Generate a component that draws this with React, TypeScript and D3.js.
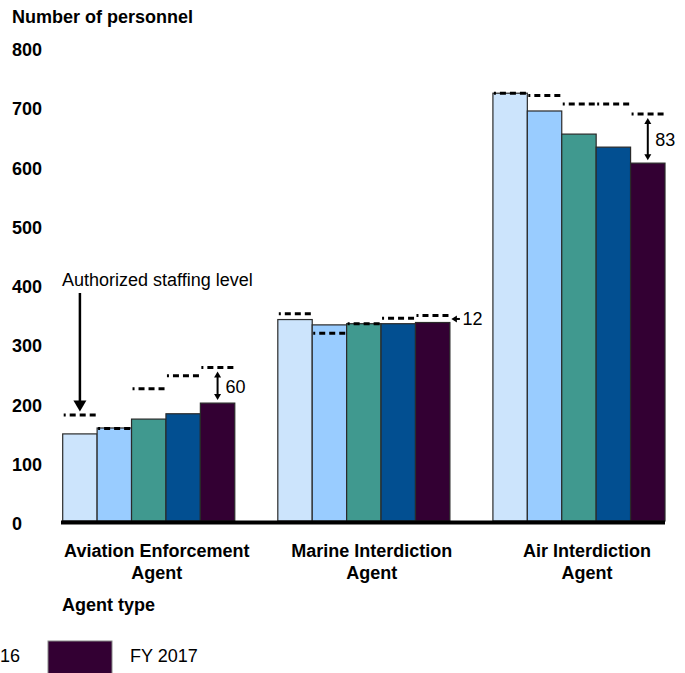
import React from 'react';
import * as d3 from 'd3';

const categories = ['Aviation Enforcement Agent', 'Marine Interdiction Agent', 'Air Interdiction Agent'];
const categoryLines = [
  ['Aviation Enforcement', 'Agent'],
  ['Marine Interdiction', 'Agent'],
  ['Air Interdiction', 'Agent'],
];
const fiscalYears = ['FY 2013', 'FY 2014', 'FY 2015', 'FY 2016', 'FY 2017'];
const colors = ['#cce4fc', '#99ccff', '#40998f', '#024f91', '#330033'];

const onBoardAviation = [147, 157, 172, 181, 199];
const onBoardMarine = [340, 331, 333, 333, 335];
const onBoardAir = [722, 692, 653, 631, 604];

const authorizedAviation = [179, 156, 223, 245, 259];
const authorizedMarine = [350, 317, 333, 342, 347];
const authorizedAir = [722, 718, 704, 704, 687];

const yTicks = [0, 100, 200, 300, 400, 500, 600, 700, 800];

const FONT = '"Liberation Sans", Arial, Helvetica, sans-serif';

export default function App() {
  const W = 685;
  const H = 673;
  const onBoard = [onBoardAviation, onBoardMarine, onBoardAir];
  const authorized = [authorizedAviation, authorizedMarine, authorizedAir];

  const x0 = d3.scaleBand<string>().domain(categories).range([62.7, 665]).paddingInner(0.2).paddingOuter(0);
  const x1 = d3.scaleBand<string>().domain(fiscalYears).range([0, x0.bandwidth()]).padding(0);
  const y = d3.scaleLinear().domain([0, 800]).range([521, 47]);
  const bw = x1.bandwidth();

  const barX = (ci: number, si: number) => (x0(categories[ci]) as number) + (x1(fiscalYears[si]) as number);

  // vertical double arrow helper
  const vArrow = (cx: number, yTop: number, yBot: number, key: string) => {
    const hl = 6, hw = 3.5;
    return (
      <g key={key}>
        <line x1={cx} x2={cx} y1={yTop + hl - 1} y2={yBot - hl + 1} stroke="#000" strokeWidth={2} />
        <path d={`M${cx},${yTop} L${cx - hw},${yTop + hl} L${cx + hw},${yTop + hl} Z`} fill="#000" />
        <path d={`M${cx},${yBot} L${cx - hw},${yBot - hl} L${cx + hw},${yBot - hl} Z`} fill="#000" />
      </g>
    );
  };

  // Gap annotations (last fiscal year)
  const last = fiscalYears.length - 1;
  const gapAv = authorizedAviation[last] - onBoardAviation[last];
  const gapMa = authorizedMarine[last] - onBoardMarine[last];
  const gapAir = authorizedAir[last] - onBoardAir[last];

  const avCx = barX(0, last) + bw / 2;
  const airCx = barX(2, last) + bw / 2;
  const maRight = barX(1, last) + bw;
  const maMidY = (y(authorizedMarine[last]) + y(onBoardMarine[last])) / 2;

  const firstCx = barX(0, 0) + bw / 2;
  const firstTip = y(authorizedAviation[0]) - 3.5;

  const legendStep = 177.6;
  const legendLastX = 48;

  return (
    <svg
      width={W}
      height={H}
      style={{ position: 'absolute', left: 0, top: 0, background: '#fff', overflow: 'hidden' }}
      fontFamily={FONT}
    >
      <rect x={0} y={0} width={W} height={H} fill="#fff" />
      {/* Title */}
      <text x={12} y={23} fontSize={18} fontWeight="bold" fill="#000">Number of personnel</text>

      {/* Y tick labels */}
      {yTicks.map((t) => (
        <text key={t} x={12} y={y(t) + 9} fontSize={18} fontWeight="bold" fill="#000">{t}</text>
      ))}

      {/* Bars */}
      {categories.map((c, ci) => (
        <g key={c}>
          {fiscalYears.map((fy, si) => (
            <rect
              key={fy}
              x={barX(ci, si)}
              y={y(onBoard[ci][si])}
              width={bw}
              height={y(0) - y(onBoard[ci][si])}
              fill={colors[si]}
              stroke="#2a2a2a"
              strokeWidth={1.2}
            />
          ))}
        </g>
      ))}

      {/* Authorized staffing dashed lines */}
      {categories.map((c, ci) => (
        <g key={'a' + c}>
          {fiscalYears.map((fy, si) => (
            <line
              key={fy}
              x1={barX(ci, si) + 1}
              x2={barX(ci, si) + bw}
              y1={y(authorized[ci][si])}
              y2={y(authorized[ci][si])}
              stroke="#000"
              strokeWidth={3}
              strokeDasharray="6 4"
              strokeDashoffset={4}
            />
          ))}
        </g>
      ))}

      {/* Baseline */}
      <line x1={61} x2={665} y1={y(0) + 1.5} y2={y(0) + 1.5} stroke="#000" strokeWidth={4} />

      {/* Authorized staffing level annotation */}
      <text x={62} y={286} fontSize={18} fill="#000">Authorized staffing level</text>
      <line x1={firstCx} x2={firstCx} y1={293} y2={firstTip - 8} stroke="#000" strokeWidth={2.5} />
      <path d={`M${firstCx},${firstTip} L${firstCx - 6.5},${firstTip - 11} L${firstCx + 6.5},${firstTip - 11} Z`} fill="#000" />

      {/* Gap arrows */}
      {vArrow(avCx, y(authorizedAviation[last]) + 4, y(onBoardAviation[last]) - 3, 'av')}
      <text x={avCx + 8} y={(y(authorizedAviation[last]) + y(onBoardAviation[last])) / 2 + 7.5} fontSize={18} fill="#000">{gapAv}</text>

      {vArrow(airCx, y(authorizedAir[last]) + 4, y(onBoardAir[last]) - 3, 'air')}
      <text x={airCx + 7.5} y={(y(authorizedAir[last]) + y(onBoardAir[last])) / 2 + 7} fontSize={18} fill="#000">{gapAir}</text>

      <g>
        <line x1={maRight + 6} x2={maRight + 10} y1={maMidY} y2={maMidY} stroke="#000" strokeWidth={2} />
        <path d={`M${maRight + 1.5},${maMidY} L${maRight + 7},${maMidY - 3.5} L${maRight + 7},${maMidY + 3.5} Z`} fill="#000" />
        <text x={maRight + 12.5} y={maMidY + 6.5} fontSize={18} fill="#000">{gapMa}</text>
      </g>

      {/* Category labels */}
      {categories.map((c, ci) => {
        const cx = (x0(c) as number) + x0.bandwidth() / 2 + 8;
        return (
          <text key={'l' + c} x={cx} textAnchor="middle" fontSize={18} fontWeight="bold" fill="#000">
            <tspan x={cx} y={557}>{categoryLines[ci][0]}</tspan>
            <tspan x={cx} y={579}>{categoryLines[ci][1]}</tspan>
          </text>
        );
      })}

      {/* Axis title */}
      <text x={62} y={611} fontSize={18} fontWeight="bold" fill="#000">Agent type</text>

      {/* Legend */}
      {fiscalYears.map((fy, si) => {
        const sx = legendLastX - (fiscalYears.length - 1 - si) * legendStep;
        return (
          <g key={'lg' + fy}>
            <rect x={sx} y={641} width={64} height={34} fill={colors[si]} stroke="#888" strokeWidth={1} />
            <text x={sx + 82} y={661.5} fontSize={18} fill="#000">{fy}</text>
          </g>
        );
      })}
    </svg>
  );
}
